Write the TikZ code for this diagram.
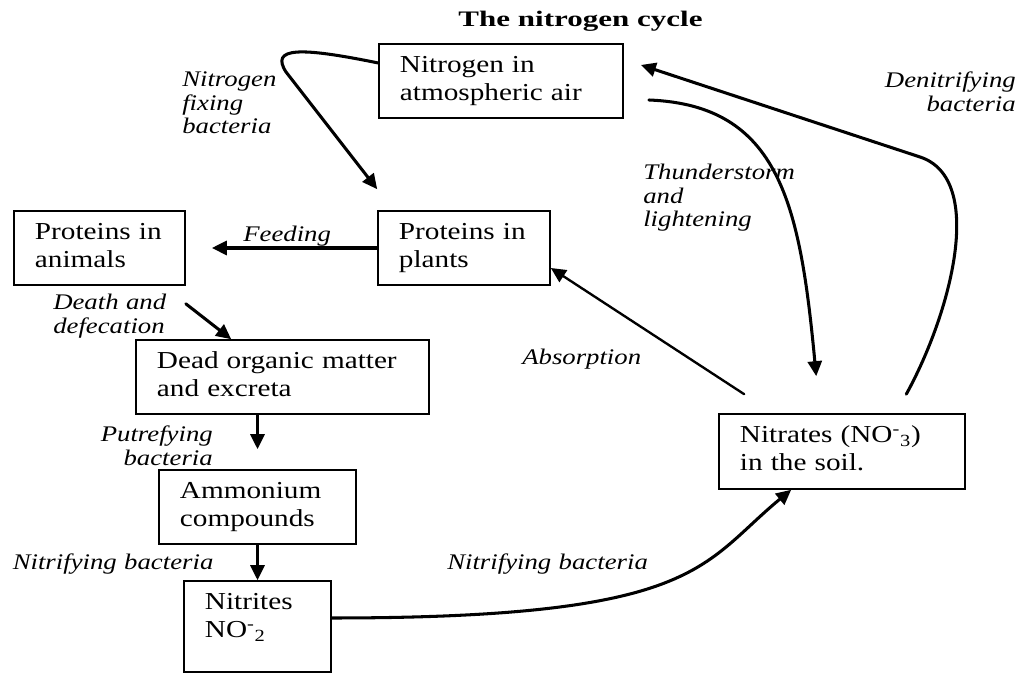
\documentclass[tikz,border=0pt]{standalone}
\usepackage{fontspec}
\setmainfont[FakeStretch=1.2]{Liberation Serif}
\newfontfamily\titlefont[FakeStretch=1.4]{Liberation Serif}
\usetikzlibrary{arrows.meta}

\begin{document}
\begin{tikzpicture}[x=0.01in,y=0.01in,line cap=round,
  box/.style={draw,line width=1.1pt,inner xsep=0.21in,inner ysep=0.1in,align=left,text width=#1,text height=0.19in,text depth=0.35in,font=\fontsize{17.6}{20.2}\selectfont},
  lab/.style={inner sep=0pt,text width=2.2in,font=\itshape\fontsize{16.1}{16.9}\selectfont},
  arr/.style={line width=2.2pt,-{Triangle[length=0.15in,width=0.14in]}}]
\path[use as bounding box] (0,0) rectangle (1020,675);
\node[font=\titlefont\bfseries\fontsize{16}{18}\selectfont,anchor=base] (title) at (580.5,648) {The nitrogen cycle};
% boxes
\node[box=2.02in] (air) at (501,594) {Nitrogen~in\\atmospheric air};
\node[box=1.30in] (plants) at (464,427) {Proteins~in\\plants};
\node[box=1.29in] (animals) at (99.5,427) {Proteins~in\\animals};
\node[box=2.51in] (dead) at (282.5,298) {Dead organic matter\\and excreta};
\node[box=1.55in] (ammonium) at (257.5,168) {Ammonium\\compounds};
\node[box=1.05in,text depth=0.52in] (nitrites) at (257.5,48.5) {Nitrites\\NO\textsuperscript{-}\textsubscript{2}};
\node[box=2.04in,text depth=0.36in] (nitrates) at (842,223.5) {Nitrates (NO\textsuperscript{-}\textsubscript{3})\\in the soil.};
% arrows
\draw[arr] ([yshift=0.18in]air.west) .. controls (300,628) and (270,628) .. (286,603) -- ([yshift=0.21in]plants.north west);
\draw[arr] (plants.west) -- ([xshift=0.26in]animals.east);
\draw[arr] ([yshift=-0.18in]animals.south east) -- ([xshift=0.96in]dead.north west);
\draw[arr] (ammonium.north |- dead.south) -- ([yshift=0.2in]ammonium.north);
\draw[arr] (ammonium.south) -- (nitrites.north);
\draw[arr] ([yshift=0.085in]nitrites.east) .. controls (700,57) and (700,110) .. ([xshift=0.73in]nitrates.south west);
\draw[arr,line width=1.7pt] ([shift={(0.26in,0.19in)}]nitrates.north west) -- ([yshift=-0.2in]plants.east);
\draw[arr] ([shift={(0.25in,-0.19in)}]air.east) .. controls (780,570) and (800,470) .. ([shift={(0.98in,0.37in)}]nitrates.north west);
\draw[arr] ([shift={(1.88in,0.19in)}]nitrates.north west) .. controls (950,360) and (987,496) .. (920,518) -- ([shift={(0.17in,0.16in)}]air.east);
% labels
\node[lab,align=left,anchor=base west] (fixlab) at (182,588) {Nitrogen\\fixing\\bacteria};
\node[lab,align=left,anchor=base west] (feedlab) at (243,433) {Feeding};
\node[lab,align=left,anchor=base west] (deathlab) at (53,365) {Death and\\defecation};
\node[lab,align=right,anchor=base east] (putrlab) at (213,233) {Putrefying\\bacteria};
\node[lab,align=left,anchor=base west] (nitrlab) at (12.5,105) {Nitrifying bacteria};
\node[lab,align=left,anchor=base west] (nitrlabb) at (447,105) {Nitrifying bacteria};
\node[lab,align=left,anchor=base west] (abslab) at (522,310) {Absorption};
\node[lab,align=left,anchor=base west] (thunlab) at (643,495) {Thunderstorm\\and\\lightening};
\node[lab,align=right,anchor=base east] (denilab) at (1016,587) {Denitrifying\\bacteria};
\end{tikzpicture}
\end{document}
